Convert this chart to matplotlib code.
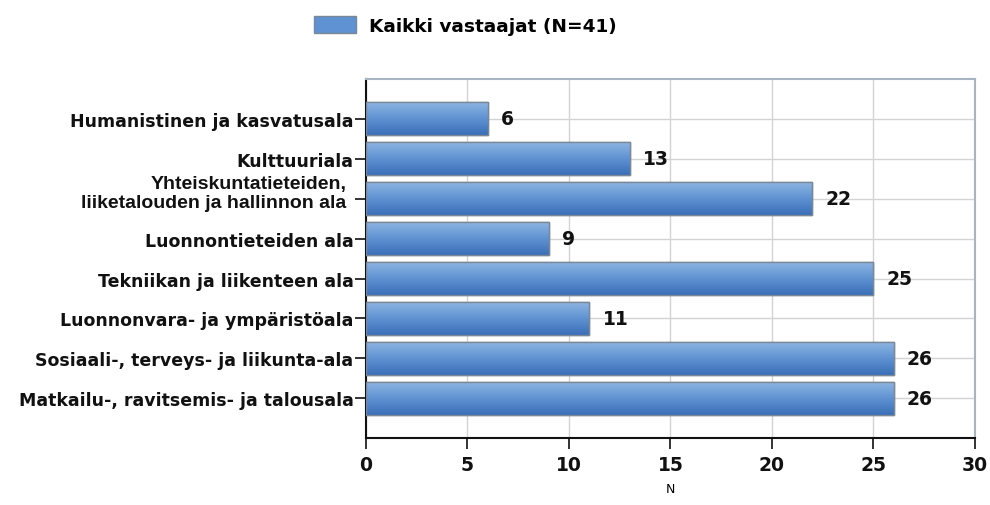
import numpy as np
import matplotlib
matplotlib.use("Agg")
import matplotlib.pyplot as plt
from matplotlib.patches import Patch

categories = [
    "Humanistinen ja kasvatusala",
    "Kulttuuriala",
    "Yhteiskuntatieteiden,\nliiketalouden ja hallinnon ala",
    "Luonnontieteiden ala",
    "Tekniikan ja liikenteen ala",
    "Luonnonvara- ja ympäristöala",
    "Sosiaali-, terveys- ja liikunta-ala",
    "Matkailu-, ravitsemis- ja talousala",
]
values = [6, 13, 22, 9, 25, 11, 26, 26]
xticks = [0, 5, 10, 15, 20, 25, 30]
legend_label = "Kaikki vastaajat (N=41)"

fig = plt.figure(figsize=(9.9, 5.06), dpi=100)
ax = fig.add_axes([0.3697, 0.132, 0.615, 0.71])

ypos = np.arange(len(categories))
bars = ax.barh(ypos, values, height=0.82, color="#5b8fd0",
               edgecolor="#7a8797", linewidth=1.0, zorder=3)

# vertical gradient inside each bar (light top, darker bottom)
grad = np.linspace(0, 1, 64).reshape(-1, 1)
cmap = matplotlib.colors.LinearSegmentedColormap.from_list(
    "bar", ["#8db4e2", "#5f92d2", "#3a6fb8"])
for b in bars:
    x0, y0 = b.get_x(), b.get_y()
    w, h = b.get_width(), b.get_height()
    im = ax.imshow(grad, cmap=cmap, aspect="auto",
                   extent=(x0, x0 + w, y0 + h, y0), zorder=3.5,
                   interpolation="bilinear")
    im.set_clip_path(b)
    ax.add_patch(plt.Rectangle((x0, y0), w, h, fill=False,
                               edgecolor="#7a8797", linewidth=1.0, zorder=4))

for y, v in zip(ypos, values):
    ax.text(v + 0.65, y, str(v), va="center", ha="left",
            fontsize=13.5, fontweight="bold", color="#111111", zorder=5)

ax.set_xlim(0, 30)
ax.set_ylim(len(categories), -1)
ax.set_xticks(xticks)
ax.set_xticklabels([str(t) for t in xticks], fontsize=13.5, fontweight="bold")
ax.set_yticks(ypos)
# two-line label is drawn separately (other font, raised a little)
ax.set_yticklabels(["" if "\n" in c else c for c in categories],
                   fontsize=12.5, fontweight="bold")
for y, c in zip(ypos, categories):
    if "\n" in c:
        ax.annotate(c, xy=(0, y), xycoords=ax.get_yaxis_transform(),
                    xytext=(-14, 4), textcoords="offset points",
                    ha="right", va="center", fontsize=14, fontweight="bold",
                    family="Liberation Sans", linespacing=1.15,
                    color="#111111", annotation_clip=False)
ax.set_xlabel("N", fontsize=9, labelpad=6)

ax.grid(True, color="#d3d3d3", linewidth=1.0, zorder=0)
ax.set_axisbelow(True)
ax.tick_params(axis="both", direction="out", length=8, width=1.2, colors="#111111")
ax.tick_params(axis="x", pad=4)
ax.tick_params(axis="y", pad=1)

for s in ("left", "bottom"):
    ax.spines[s].set_color("#111111")
    ax.spines[s].set_linewidth(1.5)
for s in ("top", "right"):
    ax.spines[s].set_color("#a9b4c2")
    ax.spines[s].set_linewidth(1.5)

handle = Patch(facecolor="#5f92d2", edgecolor="#7a8797")
fig.legend([handle], [legend_label], loc="center", bbox_to_anchor=(0.47, 0.948),
           frameon=False, prop={"weight": "bold", "size": 13.3},
           handlelength=2.3, handleheight=1.0, handletextpad=0.7)

fig.savefig("out.png", dpi=100)
